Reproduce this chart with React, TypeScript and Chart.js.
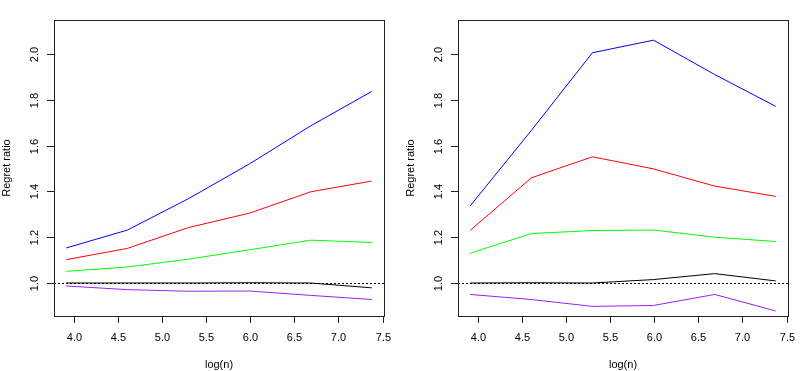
import React, { useEffect, useRef } from "react";
import { Chart, registerables } from "chart.js";

Chart.register(...registerables);

// x values: log(n)
const logN = [3.912, 4.605, 5.298, 5.991, 6.685, 7.378];

// left panel series
const leftBlue = [1.153, 1.231, 1.368, 1.52, 1.686, 1.836];
const leftRed = [1.102, 1.151, 1.242, 1.305, 1.398, 1.445];
const leftGreen = [1.051, 1.07, 1.104, 1.145, 1.187, 1.177];
const leftBlack = [1.0, 1.0, 1.0, 1.001, 1.0, 0.979];
const leftPurple = [0.987, 0.971, 0.964, 0.965, 0.946, 0.928];

// right panel series
const rightBlue = [1.337, 1.666, 2.005, 2.06, 1.91, 1.771];
const rightRed = [1.23, 1.459, 1.551, 1.498, 1.423, 1.378];
const rightGreen = [1.13, 1.216, 1.229, 1.231, 1.2, 1.181];
const rightBlack = [1.0, 1.001, 1.0, 1.015, 1.041, 1.009];
const rightPurple = [0.95, 0.928, 0.898, 0.902, 0.95, 0.878];

// ticks
const xTicks = [4.0, 4.5, 5.0, 5.5, 6.0, 6.5, 7.0, 7.5];
const yTicks = [1.0, 1.2, 1.4, 1.6, 1.8, 2.0];
const xLimits = [3.773, 7.517];
const yLimits = [0.856, 2.148];
const refLine = 1.0;

const xTitle = "log(n)";
const yTitle = "Regret ratio";

const FONT = '11px "Liberation Sans", Arial, Helvetica, sans-serif';

const rAxesPlugin = {
  id: "rAxes",
  afterDatasetsDraw(chart: any) {
    const { ctx, chartArea, scales } = chart;
    const xs = scales.x;
    const ys = scales.y;
    const { left, right, top, bottom } = chartArea;
    ctx.save();
    // dotted reference line
    const yRef = Math.round(ys.getPixelForValue(refLine)) + 0.5;
    ctx.strokeStyle = "#000";
    ctx.lineWidth = 1;
    ctx.setLineDash([2, 2]);
    ctx.beginPath();
    ctx.moveTo(left, yRef);
    ctx.lineTo(right, yRef);
    ctx.stroke();
    ctx.setLineDash([]);

    // box
    ctx.strokeStyle = "#222";
    ctx.strokeRect(left + 0.5, top + 0.5, right - left, bottom - top);

    ctx.fillStyle = "#000";
    ctx.strokeStyle = "#222";
    ctx.font = FONT;

    // x axis ticks and labels
    const xt = xs.ticks as any[];
    ctx.beginPath();
    const x0 = Math.round(xs.getPixelForValue(xt[0].value)) + 0.5;
    const x1 = Math.round(xs.getPixelForValue(xt[xt.length - 1].value)) + 0.5;
    ctx.moveTo(x0, bottom + 0.5);
    ctx.lineTo(x1, bottom + 0.5);
    ctx.stroke();
    ctx.textAlign = "center";
    ctx.textBaseline = "middle";
    xt.forEach((t) => {
      const px = Math.round(xs.getPixelForValue(t.value)) + 0.5;
      ctx.beginPath();
      ctx.moveTo(px, bottom);
      ctx.lineTo(px, bottom + 7);
      ctx.stroke();
      ctx.fillText(t.value.toFixed(1), px, bottom + 22);
    });

    // y axis ticks and labels
    const yt = ys.ticks as any[];
    ctx.beginPath();
    const y0 = Math.round(ys.getPixelForValue(yt[0].value)) + 0.5;
    const y1 = Math.round(ys.getPixelForValue(yt[yt.length - 1].value)) + 0.5;
    ctx.moveTo(left + 0.5, y0);
    ctx.lineTo(left + 0.5, y1);
    ctx.stroke();
    yt.forEach((t) => {
      const py = Math.round(ys.getPixelForValue(t.value)) + 0.5;
      ctx.beginPath();
      ctx.moveTo(left, py);
      ctx.lineTo(left - 7, py);
      ctx.stroke();
      ctx.save();
      ctx.translate(left - 19, py);
      ctx.rotate(-Math.PI / 2);
      ctx.fillText(t.value.toFixed(1), 0, 0);
      ctx.restore();
    });

    // titles
    ctx.fillText(xTitle, (left + right) / 2, bottom + 49);
    ctx.save();
    ctx.translate(left - 47, (top + bottom) / 2);
    ctx.rotate(-Math.PI / 2);
    ctx.fillText(yTitle, 0, 0);
    ctx.restore();
    ctx.restore();
  },
};

type PanelProps = {
  series: { data: number[]; color: string }[];
  width: number;
};

function Panel({ series, width }: PanelProps) {
  const ref = useRef<HTMLCanvasElement | null>(null);
  useEffect(() => {
    if (!ref.current) return;
    const chart = new Chart(ref.current, {
      type: "line",
      data: {
        datasets: series.map((s) => ({
          data: logN.map((x, i) => ({ x, y: s.data[i] })),
          borderColor: s.color,
          backgroundColor: s.color,
          borderWidth: 1,
          pointRadius: 0,
          tension: 0,
          fill: false,
        })),
      },
      options: {
        animation: false,
        responsive: false,
        devicePixelRatio: 1,
        layout: { padding: { left: 54, right: width - 384, top: 20, bottom: 55 } },
        plugins: { legend: { display: false }, tooltip: { enabled: false } },
        events: [],
        scales: {
          x: {
            type: "linear",
            display: false,
            min: xLimits[0],
            max: xLimits[1],
            afterBuildTicks: (scale: any) => {
              scale.ticks = xTicks.map((v) => ({ value: v }));
            },
          },
          y: {
            type: "linear",
            display: false,
            min: yLimits[0],
            max: yLimits[1],
            afterBuildTicks: (scale: any) => {
              scale.ticks = yTicks.map((v) => ({ value: v }));
            },
          },
        },
      },
      plugins: [rAxesPlugin],
    });
    return () => chart.destroy();
  }, []);
  return <canvas ref={ref} width={width} height={371} style={{ display: "block" }} />;
}

export default function App() {
  const left = [
    { data: leftBlack, color: "#000000" },
    { data: leftPurple, color: "#A020F0" },
    { data: leftGreen, color: "#00FF00" },
    { data: leftRed, color: "#FF0000" },
    { data: leftBlue, color: "#0000FF" },
  ];
  const right = [
    { data: rightBlack, color: "#000000" },
    { data: rightPurple, color: "#A020F0" },
    { data: rightGreen, color: "#00FF00" },
    { data: rightRed, color: "#FF0000" },
    { data: rightBlue, color: "#0000FF" },
  ];
  return (
    <div
      style={{
        position: "fixed",
        left: 0,
        top: 0,
        width: 809,
        height: 371,
        background: "#fff",
        display: "flex",
        overflow: "hidden",
      }}
    >
      <Panel series={left} width={404} />
      <Panel series={right} width={405} />
    </div>
  );
}
